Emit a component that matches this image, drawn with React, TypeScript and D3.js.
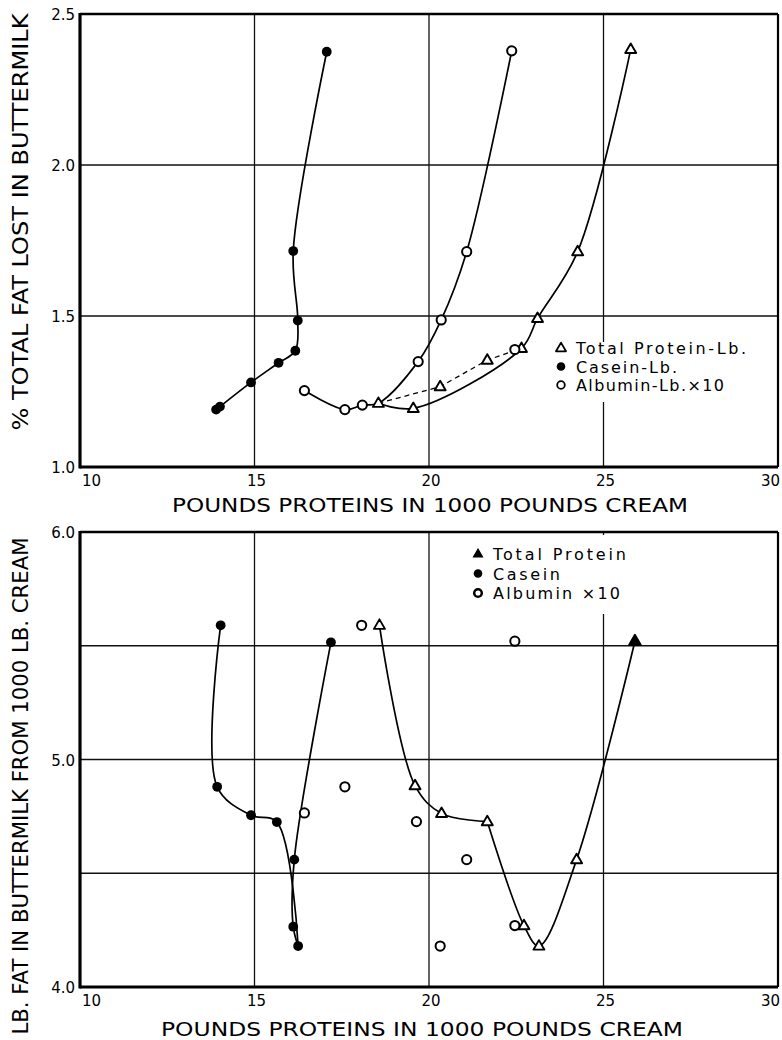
import React from 'react';
import * as d3 from 'd3';

// ---------- data ----------
const xTicks = [10, 15, 20, 25, 30];
const xGrid = [15, 20, 25];

const topYGrid = [1.5, 2.0];
const topYLabels = ['1.0', '1.5', '2.0', '2.5'];
const topYLabelValues = [1.0, 1.5, 2.0, 2.5];

const bottomYGrid = [4.5, 5.0, 5.5];
const bottomYLabels = ['4.0', '5.0', '6.0'];
const bottomYLabelValues = [4.0, 5.0, 6.0];

// Top panel: % total fat lost in buttermilk
const topCaseinX = [17.07, 16.11, 16.24, 16.17, 15.69, 14.9, 14.01, 13.9];
const topCaseinY = [2.375, 1.715, 1.485, 1.385, 1.345, 1.28, 1.2, 1.19];
const topAlbuminX = [22.37, 21.08, 20.35, 19.69, 16.43, 17.59, 18.09, 22.46];
const topAlbuminY = [2.378, 1.713, 1.487, 1.349, 1.253, 1.19, 1.205, 1.389];
const topProteinX = [25.78, 24.26, 23.11, 22.65, 21.67, 20.32, 19.55, 18.55];
const topProteinY = [2.383, 1.713, 1.492, 1.393, 1.354, 1.266, 1.194, 1.211];

// Bottom panel: lb. fat in buttermilk from 1000 lb. cream
const botCaseinX = [14.03, 17.19, 13.93, 14.9, 15.64, 16.14, 16.11, 16.25];
const botCaseinY = [5.59, 5.515, 4.88, 4.755, 4.725, 4.56, 4.265, 4.18];
const botAlbuminX = [18.07, 17.59, 16.43, 19.64, 21.08, 22.46, 22.46, 20.32];
const botAlbuminY = [5.59, 4.88, 4.765, 4.727, 4.56, 5.52, 4.27, 4.18];
const botProteinX = [18.58, 19.6, 20.36, 21.67, 22.72, 23.15, 24.23, 25.9];
const botProteinY = [5.59, 4.885, 4.763, 4.727, 4.27, 4.18, 4.56, 5.52];

// curve paths: [series, index] sequences ('c' casein, 'a' albumin, 't' total protein)
type Ref = [string, number];
const topSolidCurves: Ref[][] = [
  [['c', 7], ['c', 6], ['c', 5], ['c', 4], ['c', 3], ['c', 2], ['c', 1], ['c', 0]],
  [['a', 4], ['a', 5], ['a', 6], ['t', 7], ['a', 3], ['a', 2], ['a', 1], ['a', 0]],
  [['t', 7], ['t', 6], ['t', 3], ['t', 2], ['t', 1], ['t', 0]],
];
const topDashedCurves: Ref[][] = [[['t', 7], ['t', 5], ['t', 4], ['t', 3]]];
const botSolidCurves: Ref[][] = [
  [['c', 0], ['c', 2], ['c', 3], ['c', 4], ['c', 7]],
  [['c', 7], ['c', 6], ['c', 5], ['c', 1]],
  [['t', 0], ['t', 1], ['t', 2], ['t', 3]],
  [['t', 3], ['t', 4], ['t', 5], ['t', 6], ['t', 7]],
];

const topLegend = ['Total Protein-Lb.', 'Casein-Lb.', 'Albumin-Lb.×10'];
const botLegend = ['Total Protein', 'Casein', 'Albumin ×10'];

const xTitle = 'POUNDS PROTEINS IN 1000 POUNDS CREAM';
const topYTitle = '% TOTAL FAT LOST IN BUTTERMILK';
const botYTitle = 'LB. FAT IN BUTTERMILK FROM 1000 LB. CREAM';

// ---------- layout ----------
const W = 782;
const H = 1040;
const FONT = "'DejaVu Sans', 'Liberation Sans', sans-serif";
const topLegendWidths = [170, 101, 148];
const botLegendWidths = [133, 67, 127];

const x = d3.scaleLinear().domain([10, 30]).range([80, 778]);

const tri = (s: number) => {
  const h = s * 0.866;
  return `M0,${-h * 0.62}L${s / 2},${h * 0.38}L${-s / 2},${h * 0.38}Z`;
};

type Series = { x: number[]; y: number[] };

function Panel(props: {
  top: number;
  bottom: number;
  yDomain: [number, number];
  yGrid: number[];
  yLabelValues: number[];
  yLabels: string[];
  series: Record<string, Series>;
  solid: Ref[][];
  dashed: Ref[][];
  legend: string[];
  legendWidths: number[];
  legendX: number;
  legendY: number;
  legendDy: number;
  legendMask: [number, number, number, number];
  bottomPanel: boolean;
  xTitleY: number;
  xTitleLen: number;
  xTitleCx: number;
  yTitle: string;
  yTitleCy: number;
  yTitleLen: number;
}) {
  const p = props;
  const y = d3.scaleLinear().domain(p.yDomain).range([p.bottom, p.top]);
  const pt = (r: Ref): [number, number] => [x(p.series[r[0]].x[r[1]]), y(p.series[r[0]].y[r[1]])];
  const curve = d3.line<[number, number]>().curve(d3.curveCatmullRom.alpha(0.5));
  const straight = d3.line<[number, number]>();
  const L = 80, R = 778;
  const [mx, my, mw, mh] = p.legendMask;
  return (
    <g>
      {xGrid.map((v) => (
        <line key={'gx' + v} x1={x(v)} x2={x(v)} y1={p.top} y2={p.bottom} stroke="#111" strokeWidth={1.3} />
      ))}
      {p.yGrid.map((v) => (
        <line key={'gy' + v} x1={L} x2={R} y1={y(v)} y2={y(v)} stroke="#111" strokeWidth={1.3} />
      ))}
      <rect x={mx} y={my} width={mw} height={mh} fill="#fff" />
      <line x1={L} x2={R} y1={p.top} y2={p.top} stroke="#000" strokeWidth={2.6} />
      <line x1={R} x2={R} y1={p.top} y2={p.bottom} stroke="#000" strokeWidth={2.2} />
      <line x1={L} x2={R} y1={p.bottom} y2={p.bottom} stroke="#000" strokeWidth={3} />
      <line x1={L} x2={L} y1={p.top - 1} y2={p.bottom + 1.5} stroke="#000" strokeWidth={3.2} />
      {p.solid.map((c, i) => (
        <path key={'s' + i} d={curve(c.map(pt)) || ''} fill="none" stroke="#000" strokeWidth={1.7} />
      ))}
      {p.dashed.map((c, i) => (
        <path key={'d' + i} d={straight(c.map(pt)) || ''} fill="none" stroke="#000" strokeWidth={1.3} strokeDasharray="5,4" />
      ))}
      {p.series.t.x.map((v, i) => {
        const filled = p.bottomPanel && i === p.series.t.x.length - 1;
        return (
          <path key={'t' + i} d={tri(filled ? 12 : 11)} transform={`translate(${x(v)},${y(p.series.t.y[i])})`}
            fill={filled ? '#000' : '#fff'} stroke="#000" strokeWidth={1.9} strokeLinejoin="round" />
        );
      })}
      {p.series.a.x.map((v, i) => (
        <circle key={'a' + i} cx={x(v)} cy={y(p.series.a.y[i])} r={4.6} fill="#fff" stroke="#000" strokeWidth={2} />
      ))}
      {p.series.c.x.map((v, i) => (
        <circle key={'c' + i} cx={x(v)} cy={y(p.series.c.y[i])} r={4.9} fill="#000" />
      ))}
      <g fontFamily={FONT} fontSize={16} fill="#000">
        {p.legend.map((t, i) => {
          const cy = p.legendY + i * p.legendDy;
          const mxp = p.legendX;
          let mark;
          if (i === 0)
            mark = p.bottomPanel ? (
              <path d={tri(9)} transform={`translate(${mxp},${cy})`} fill="#000" stroke="#000" strokeWidth={1.2} />
            ) : (
              <path d={tri(10)} transform={`translate(${mxp},${cy})`} fill="#fff" stroke="#000" strokeWidth={1.8} strokeLinejoin="round" />
            );
          else if (i === 1) mark = <circle cx={mxp} cy={cy} r={4.3} fill="#000" />;
          else mark = <circle cx={mxp} cy={cy} r={3.8} fill="#fff" stroke="#000" strokeWidth={p.bottomPanel ? 2.5 : 1.8} />;
          return (
            <g key={'l' + i}>
              {mark}
              <text x={mxp + 15} y={cy + 6} textLength={p.legendWidths[i]} lengthAdjust="spacing">{t}</text>
            </g>
          );
        })}
      </g>
      <g fontFamily={FONT} fontSize={15} fill="#000" textAnchor="end">
        {p.yLabelValues.map((v, i) => (
          <text key={'yl' + i} x={75} y={y(v) + 6}>{p.yLabels[i]}</text>
        ))}
      </g>
      <g fontFamily={FONT} fontSize={15} fill="#000">
        {xTicks.map((v, i) => (
          <text key={'xl' + v} x={x(v) + 2}
            y={p.bottom + 19}
            textAnchor={i === 0 ? 'start' : i === xTicks.length - 1 ? 'end' : 'middle'}>
            {v}
          </text>
        ))}
      </g>
      <text x={p.xTitleCx} y={p.xTitleY} fontFamily={FONT} fontSize={20} textAnchor="middle"
        textLength={p.xTitleLen} lengthAdjust="spacingAndGlyphs">{xTitle}</text>
      <text transform={`translate(28,${p.yTitleCy}) rotate(-90)`} fontFamily={FONT} fontSize={21}
        textAnchor="middle" textLength={p.yTitleLen} lengthAdjust="spacingAndGlyphs">{p.yTitle}</text>
    </g>
  );
}

export default function App() {
  return (
    <svg width={W} height={H} viewBox={`0 0 ${W} ${H}`}
      style={{ position: 'absolute', left: 0, top: 0, background: '#fff' }}>
      <rect width={W} height={H} fill="#fff" />
      <Panel
        top={14}
        bottom={467}
        yDomain={[1.0, 2.5]}
        yGrid={topYGrid}
        yLabelValues={topYLabelValues}
        yLabels={topYLabels}
        series={{ c: { x: topCaseinX, y: topCaseinY }, a: { x: topAlbuminX, y: topAlbuminY }, t: { x: topProteinX, y: topProteinY } }}
        solid={topSolidCurves}
        dashed={topDashedCurves}
        legend={topLegend}
        legendWidths={topLegendWidths}
        legendX={561}
        legendY={348}
        legendDy={18.5}
        legendMask={[552, 342, 205, 60]}
        bottomPanel={false}
        xTitleY={512}
        xTitleLen={516}
        xTitleCx={430}
        yTitle={topYTitle}
        yTitleCy={222}
        yTitleLen={417}
      />
      <Panel
        top={532}
        bottom={987}
        yDomain={[4.0, 6.0]}
        yGrid={bottomYGrid}
        yLabelValues={bottomYLabelValues}
        yLabels={bottomYLabels}
        series={{ c: { x: botCaseinX, y: botCaseinY }, a: { x: botAlbuminX, y: botAlbuminY }, t: { x: botProteinX, y: botProteinY } }}
        solid={botSolidCurves}
        dashed={[]}
        legend={botLegend}
        legendWidths={botLegendWidths}
        legendX={478}
        legendY={554}
        legendDy={19.5}
        legendMask={[470, 535, 230, 79]}
        bottomPanel={true}
        xTitleY={1036}
        xTitleLen={522}
        xTitleCx={422}
        yTitle={botYTitle}
        yTitleCy={786}
        yTitleLen={497}
      />
    </svg>
  );
}
